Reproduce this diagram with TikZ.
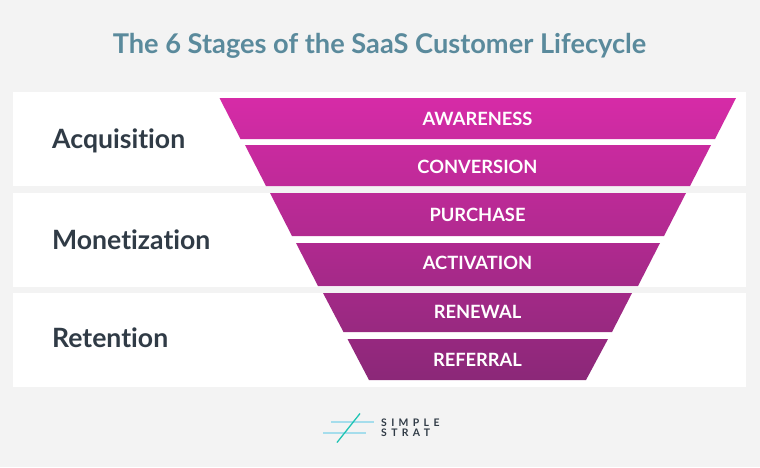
\documentclass[tikz,border=0pt]{standalone}
\usepackage{fontspec}
\setmainfont{Lato}[Ligatures=NoCommon]
\usepackage{xcolor}
\definecolor{pagegray}{HTML}{F3F3F3}
\definecolor{titleblue}{HTML}{5A8A9C}
\definecolor{groupdark}{HTML}{303B46}
\definecolor{funtop}{HTML}{D62BA7}
\definecolor{funbot}{HTML}{8B2878}
\definecolor{logoblue}{HTML}{A5DDEC}
\definecolor{logoteal}{HTML}{1FC4B4}
\tikzstyle{band}=[fill=white]
\tikzstyle{stage}=[text=white, font=\fontsize{18.3}{20}\selectfont\bfseries, inner sep=0pt]
\tikzstyle{group}=[text=groupdark, font=\fontsize{26.6}{30}\selectfont\bfseries, anchor=base west, inner sep=0pt]
\tikzstyle{logotext}=[text=groupdark, font=\fontsize{10.4}{10}\selectfont\bfseries\addfontfeatures{LetterSpace=42}, anchor=west, inner sep=0pt]
\begin{document}
\begin{tikzpicture}[x=1pt, y=-1pt]
        \useasboundingbox (0, 0) rectangle (760, 467);
        \fill[pagegray] (0, 0) rectangle (760, 467);
        %% Titulo
        \node[text=titleblue, font=\fontsize{27.2}{30}\selectfont\bfseries, inner sep=0pt] (title) at (379.5, 46) {The 6 Stages of the SaaS Customer Lifecycle};
        %% Bandas
        \fill[band] (13, 92) rectangle (746, 186);
        \fill[band] (13, 192.5) rectangle (746, 287);
        \fill[band] (13, 293) rectangle (746, 387);
        \node[group] (acquisition) at (52, 148.5) {Acquisition};
        \node[group] (monetization) at (52, 249) {Monetization};
        \node[group] (retention) at (52, 347.5) {Retention};
        %% Embudo
        \shade[top color=funtop!100!funbot, bottom color=funtop!85!funbot] (219.5, 98) -- (736, 98) -- (715, 139) -- (240.5, 139) -- cycle;
        \shade[top color=funtop!83!funbot, bottom color=funtop!69!funbot] (245, 145) -- (711, 145) -- (690, 186) -- (266, 186) -- cycle;
        \shade[top color=funtop!66!funbot, bottom color=funtop!51!funbot] (270, 193) -- (686, 193) -- (664, 236) -- (292, 236) -- cycle;
        \shade[top color=funtop!49!funbot, bottom color=funtop!33!funbot] (296, 243) -- (660, 243) -- (638, 286) -- (318, 286) -- cycle;
        \shade[top color=funtop!31!funbot, bottom color=funtop!17!funbot] (323, 293) -- (632, 293) -- (612, 332) -- (343.5, 332) -- cycle;
        \shade[top color=funtop!15!funbot, bottom color=funtop!0!funbot] (347.5, 339) -- (608, 339) -- (586, 380) -- (369, 380) -- cycle;
        % Etiquetas
        \node[stage] (awareness) at (477.5, 119) {AWARENESS};
        \node[stage] (conversion) at (477.5, 167) {CONVERSION};
        \node[stage] (purchase) at (477.5, 215) {PURCHASE};
        \node[stage] (activation) at (477.5, 263) {ACTIVATION};
        \node[stage] (renewal) at (477.5, 312) {RENEWAL};
        \node[stage] (referral) at (477.5, 360) {REFERRAL};
        %% Logo
        \draw[logoblue, line width=1.3pt] (331, 422) -- (374, 422);
        \draw[logoblue, line width=1.3pt] (323, 433) -- (366, 433);
        \draw[logoteal, line width=1.3pt] (337, 442.5) -- (360, 413.5);
        \node[logotext] (simple) at (381, 423) {SIMPLE};
        \node[logotext] (strat) at (381, 433) {STRAT};
\end{tikzpicture}
\end{document}
